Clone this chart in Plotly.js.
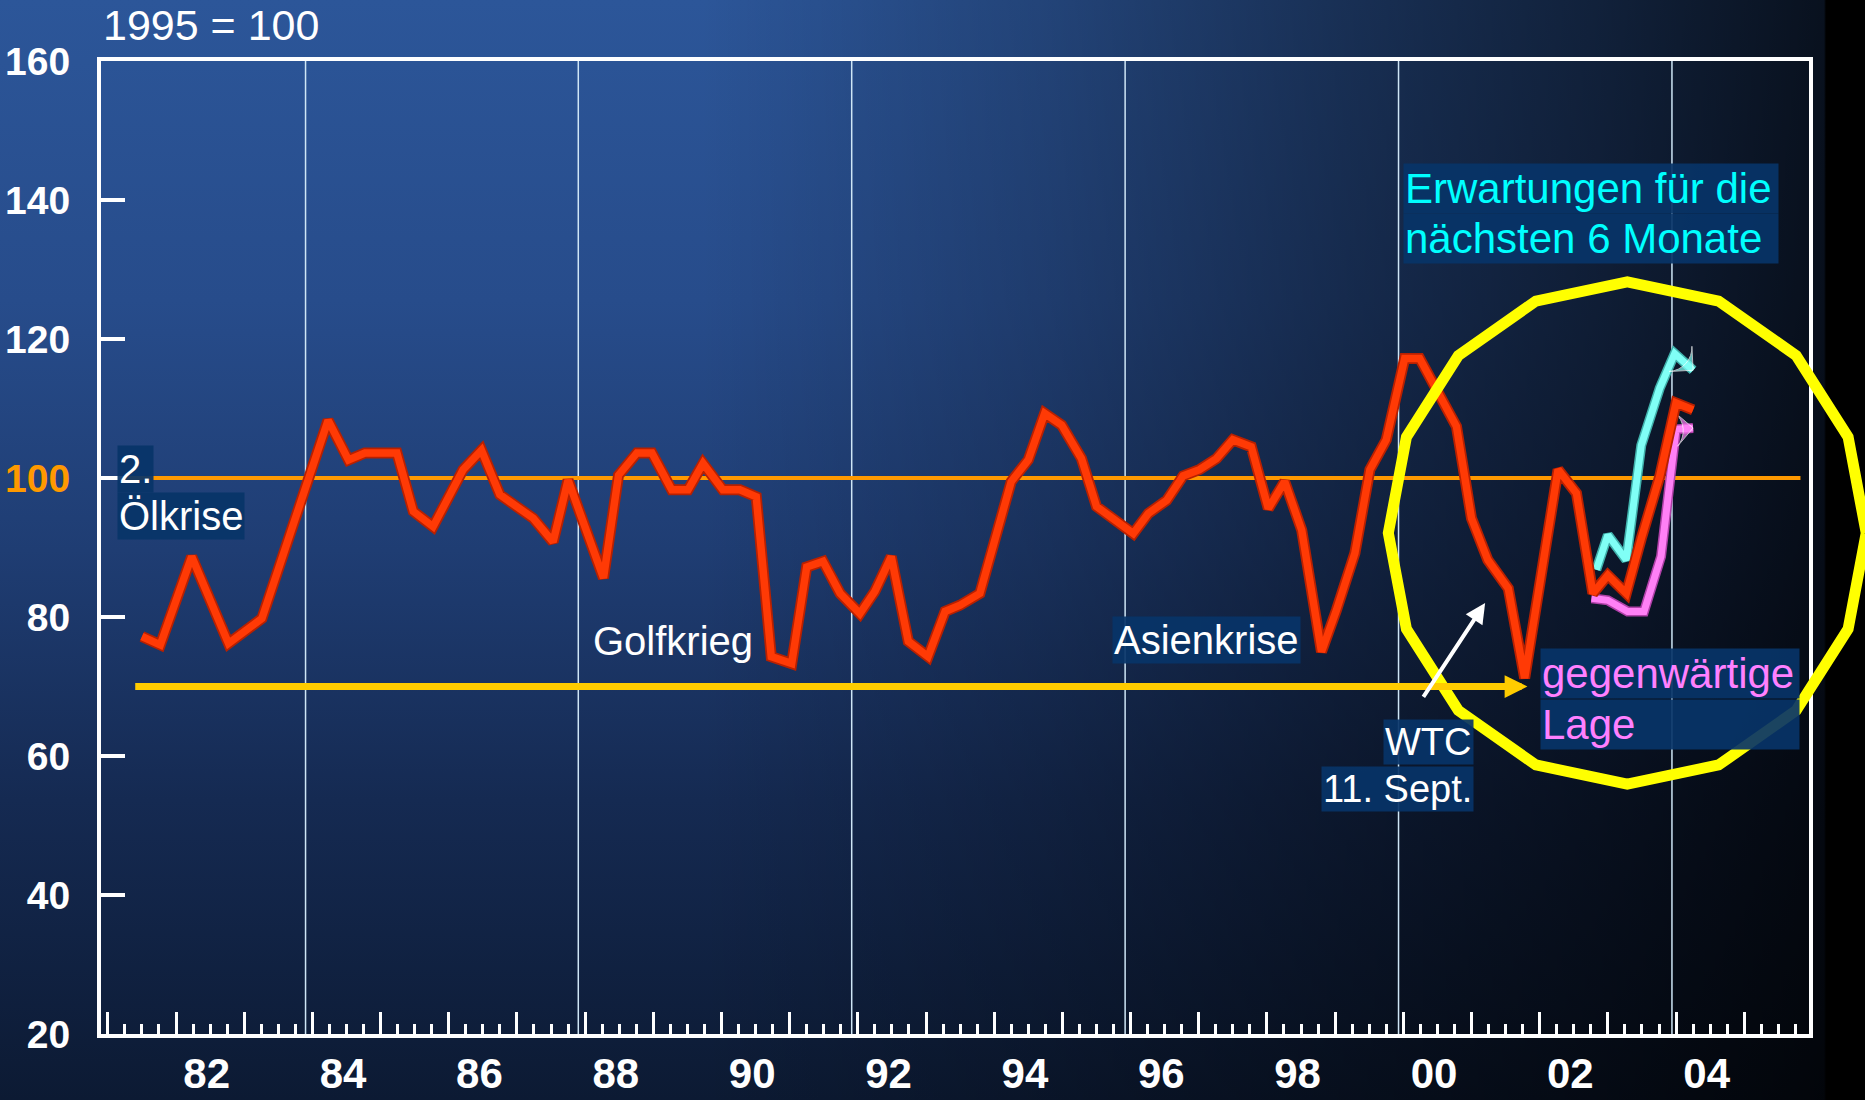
<!DOCTYPE html>
<html><head><meta charset="utf-8">
<script src="https://cdn.plot.ly/plotly-3.0.1.min.js"></script>
<style>
html,body{margin:0;padding:0;width:1865px;height:1100px;overflow:hidden;}
body{background:
 linear-gradient(to right, rgba(0,0,0,0) 0px, rgba(0,0,0,0) 700px, rgba(0,0,0,0.22) 1050px, rgba(0,0,0,0.45) 1350px, rgba(0,0,0,0.62) 1600px, rgba(0,0,0,0.8) 1824px, #000 1826px, #000 1865px),
 linear-gradient(to bottom, #2c5699 0px, #274c8b 300px, #1f3d73 550px, #152a52 800px, #0c1a33 1100px);}
#chart{width:1865px;height:1100px;}
</style></head><body><div id="chart"></div><script>
// Main index (red), quarterly vertices (decimal years)
const years = [1981.50,1981.77,1982.23,1982.47,1982.77,1983.26,1984.23,1984.53,1984.77,1985.24,
1985.48,1985.77,1986.21,1986.48,1986.75,1987.24,1987.53,1987.75,1988.27,1988.49,
1988.76,1988.98,1989.27,1989.51,1989.73,1990.02,1990.27,1990.51,1990.73,1991.03,
1991.25,1991.49,1991.74,1992.03,1992.25,1992.49,1992.74,1993.03,1993.28,1993.50,
1993.79,1994.25,1994.50,1994.74,1994.99,1995.28,1995.50,1996.04,1996.26,1996.53,
1996.77,1997.01,1997.26,1997.50,1997.77,1998.02,1998.26,1998.51,1998.80,1999.02,
1999.29,1999.51,1999.75,2000.02,2000.24,2000.78,2001.00,2001.24,2001.54,2001.78,
2001.99,2002.27,2002.54,2002.78,2003.00,2003.27,2003.49,2003.76,2004.00,2004.25];
const index = [77.2,76.0,88.7,83.4,76.2,79.8,108.3,102.6,103.6,103.6,
95.2,93.0,101.2,104.0,97.6,94.2,90.8,99.7,85.6,100.4,
103.6,103.6,98.3,98.3,102.1,98.3,98.3,97.3,74.3,73.3,
87.2,88.0,83.4,80.5,83.7,88.7,76.5,74.3,80.8,81.7,
83.4,99.5,102.6,109.3,107.6,102.8,95.9,92.0,94.9,96.8,
100.3,101.2,102.8,105.5,104.5,95.6,99.5,92.5,75.0,81.0,
89.2,101.2,105.5,117.2,117.2,107.4,94.2,88.2,84.1,71.2,
84.4,101.2,97.8,83.4,86.0,83.4,91.3,100.2,110.8,109.8];
// Erwartungen für die nächsten 6 Monate (cyan)
const expYears = [2002.83,2003.00,2003.27,2003.49,2003.76,2003.98,2004.25];
const expVals  = [86.8,91.8,88.2,104.7,112.9,117.9,115.5];
// gegenwärtige Lage (pink)
const lageYears = [2002.76,2003.00,2003.29,2003.53,2003.78,2004.00,2004.25];
const lageVals  = [82.7,82.4,80.8,80.8,88.7,107.0,107.2];
// Axis labels
const xLabelPos  = [1982.45,1984.45,1986.45,1988.45,1990.45,1992.45,1994.45,1996.45,1998.45,2000.45,2002.45,2004.45];
const xLabelText = ['82','84','86','88','90','92','94','96','98','00','02','04'];
const yTickVals  = [20,40,60,80,100,120,140,160];
const yTickText  = ['20','40','60','80','<span style="color:#ff9900">100</span>','120','140','160'];
const gridYears  = [1983.9,1987.9,1991.91,1995.92,1999.93,2003.94];

const xRange = [1980.9, 2005.95];
const FONT = 'Liberation Sans, Arial, sans-serif';
const boxBg = 'rgba(8,52,104,0.92)';

function endArrowSizes(n, s){ const a = new Array(n).fill(0); a[n-1] = s; return a; }

const traces = [
 {x: lageYears, y: lageVals, type:'scatter', mode:'lines', line:{color:'#b040a8', width:10}, hoverinfo:'skip'},
 {x: lageYears, y: lageVals, type:'scatter', mode:'lines+markers', line:{color:'#ff80f6', width:7},
  marker:{symbol:'arrow-wide', angleref:'previous', size:endArrowSizes(lageYears.length,24), color:'#ff80f6'}, hoverinfo:'skip'},
 {x: expYears, y: expVals, type:'scatter', mode:'lines', line:{color:'#3fb0ab', width:10}, hoverinfo:'skip'},
 {x: expYears, y: expVals, type:'scatter', mode:'lines+markers', line:{color:'#80fff6', width:7},
  marker:{symbol:'arrow-wide', angleref:'previous', size:endArrowSizes(expYears.length,24), color:'#80fff6'}, hoverinfo:'skip'},
 {x: years, y: index, type:'scatter', mode:'lines', line:{color:'#b82000', width:11}, hoverinfo:'skip'},
 {x: years, y: index, type:'scatter', mode:'lines', line:{color:'#ff3a05', width:7.5}, hoverinfo:'skip'},
 {x: xLabelPos, y: xLabelPos.map(()=>null), xaxis:'x2', type:'scatter', mode:'lines', hoverinfo:'skip'}
];

const shapes = gridYears.map(g => ({type:'line', xref:'x', yref:'paper', x0:g, x1:g, y0:0, y1:1,
  line:{color:'#cfe6f6', width:1.5}, layer:'below'}));
shapes.push({type:'line', xref:'paper', yref:'y', x0:0, x1:0.995, y0:100, y1:100, line:{color:'#ff9900', width:4}, layer:'below'});

// 16-sided yellow ring (decoration), paper coordinates
const ringCenter = [0.8936, 0.5149], ringRadius = [0.1399, 0.2580], ringSides = 16;
let ringPath = '';
for (let i = 0; i < ringSides; i++) {
  const a = Math.PI/2 + i * 2*Math.PI/ringSides;
  const px = ringCenter[0] + ringRadius[0]*Math.cos(a), py = ringCenter[1] + ringRadius[1]*Math.sin(a);
  ringPath += (i === 0 ? 'M' : 'L') + px.toFixed(4) + ',' + py.toFixed(4);
}
ringPath += 'Z';
shapes.push({type:'path', xref:'paper', yref:'paper', path:ringPath, line:{color:'#ffff00', width:11}, layer:'above'});

function txt(text, x, y, opt){
  return Object.assign({text:text, x:x, y:y, xref:'x', yref:'y', showarrow:false, xanchor:'left', yanchor:'middle',
    font:{family:FONT, size:40, color:'#ffffff'}, borderpad:1}, opt||{});
}
const annotations = [
 {text:'', x:2001.82, y:70, ax:1981.38, ay:70, xref:'x', yref:'y', axref:'x', ayref:'y', showarrow:true,
  arrowhead:2, arrowsize:0.65, arrowwidth:7, arrowcolor:'#ffcc00', standoff:0},
 {text:'', x:2001.20, y:82.0, ax:2000.28, ay:68.3, xref:'x', yref:'y', axref:'x', ayref:'y', showarrow:true,
  arrowhead:2, arrowsize:1, arrowwidth:4, arrowcolor:'#ffffff', standoff:0},
 txt('1995 = 100', 0, 1.037, {xref:'paper', yref:'paper', font:{family:FONT, size:43, color:'#fff'}}),
 txt('2.', 1981.14, 101.3, {bgcolor:boxBg}),
 txt('Ölkrise', 1981.14, 94.5, {bgcolor:boxBg}),
 txt('Golfkrieg', 1989.29, 76.6, {xanchor:'center'}),
 txt('Asienkrise', 1997.12, 76.7, {xanchor:'center', bgcolor:boxBg}),
 txt('WTC', 2001.03, 62.0, {xanchor:'right', bgcolor:boxBg, font:{family:FONT, size:38, color:'#fff'}}),
 txt('11. Sept.', 2001.03, 55.2, {xanchor:'right', bgcolor:boxBg, font:{family:FONT, size:38, color:'#fff'}}),
 txt('Erwartungen für die', 2000.0, 141.7, {bgcolor:boxBg, width:372, align:'left', font:{family:FONT, size:42, color:'#00ffff'}}),
 txt('nächsten 6 Monate', 2000.0, 134.4, {bgcolor:boxBg, width:372, align:'left', font:{family:FONT, size:42, color:'#00ffff'}}),
 txt('gegenwärtige', 2002.01, 71.8, {bgcolor:boxBg, width:256, align:'left', font:{family:FONT, size:42, color:'#ff80ff'}}),
 txt('Lage', 2002.01, 64.6, {bgcolor:boxBg, width:256, align:'left', font:{family:FONT, size:42, color:'#ff80ff'}})
];

const layout = {
 width:1865, height:1100,
 margin:{l:101, r:56, t:61, b:66, pad:0},
 paper_bgcolor:'rgba(0,0,0,0)', plot_bgcolor:'rgba(0,0,0,0)',
 showlegend:false,
 font:{family:FONT, color:'#ffffff'},
 xaxis:{range:xRange, tickmode:'linear', tick0:1981, dtick:1, ticks:'inside', ticklen:22, tickwidth:3, tickcolor:'#fff',
   showticklabels:false, showgrid:false, zeroline:false, showline:true, linecolor:'#fff', linewidth:4, mirror:true,
   minor:{tick0:1981, dtick:0.25, ticks:'inside', ticklen:10, tickwidth:3, tickcolor:'#fff', showgrid:false}},
 xaxis2:{overlaying:'x', anchor:'y', side:'bottom', range:xRange, tickmode:'array', tickvals:xLabelPos, ticktext:xLabelText,
   ticks:'', showline:false, showgrid:false, zeroline:false, ticklabelstandoff:11,
   tickfont:{family:FONT, size:42, weight:'bold', color:'#fff'}},
 yaxis:{range:[20,160], tickmode:'array', tickvals:yTickVals, ticktext:yTickText, ticks:'inside', ticklen:24, tickwidth:4,
   tickcolor:'#fff', showline:true, mirror:true, linewidth:4, linecolor:'#fff', showgrid:false, zeroline:false,
   ticklabelstandoff:19, tickfont:{family:FONT, size:39, weight:'bold', color:'#fff'}},
 shapes:shapes,
 annotations:annotations
};
Plotly.newPlot('chart', traces, layout, {displayModeBar:false, staticPlot:true});
</script></body></html>
